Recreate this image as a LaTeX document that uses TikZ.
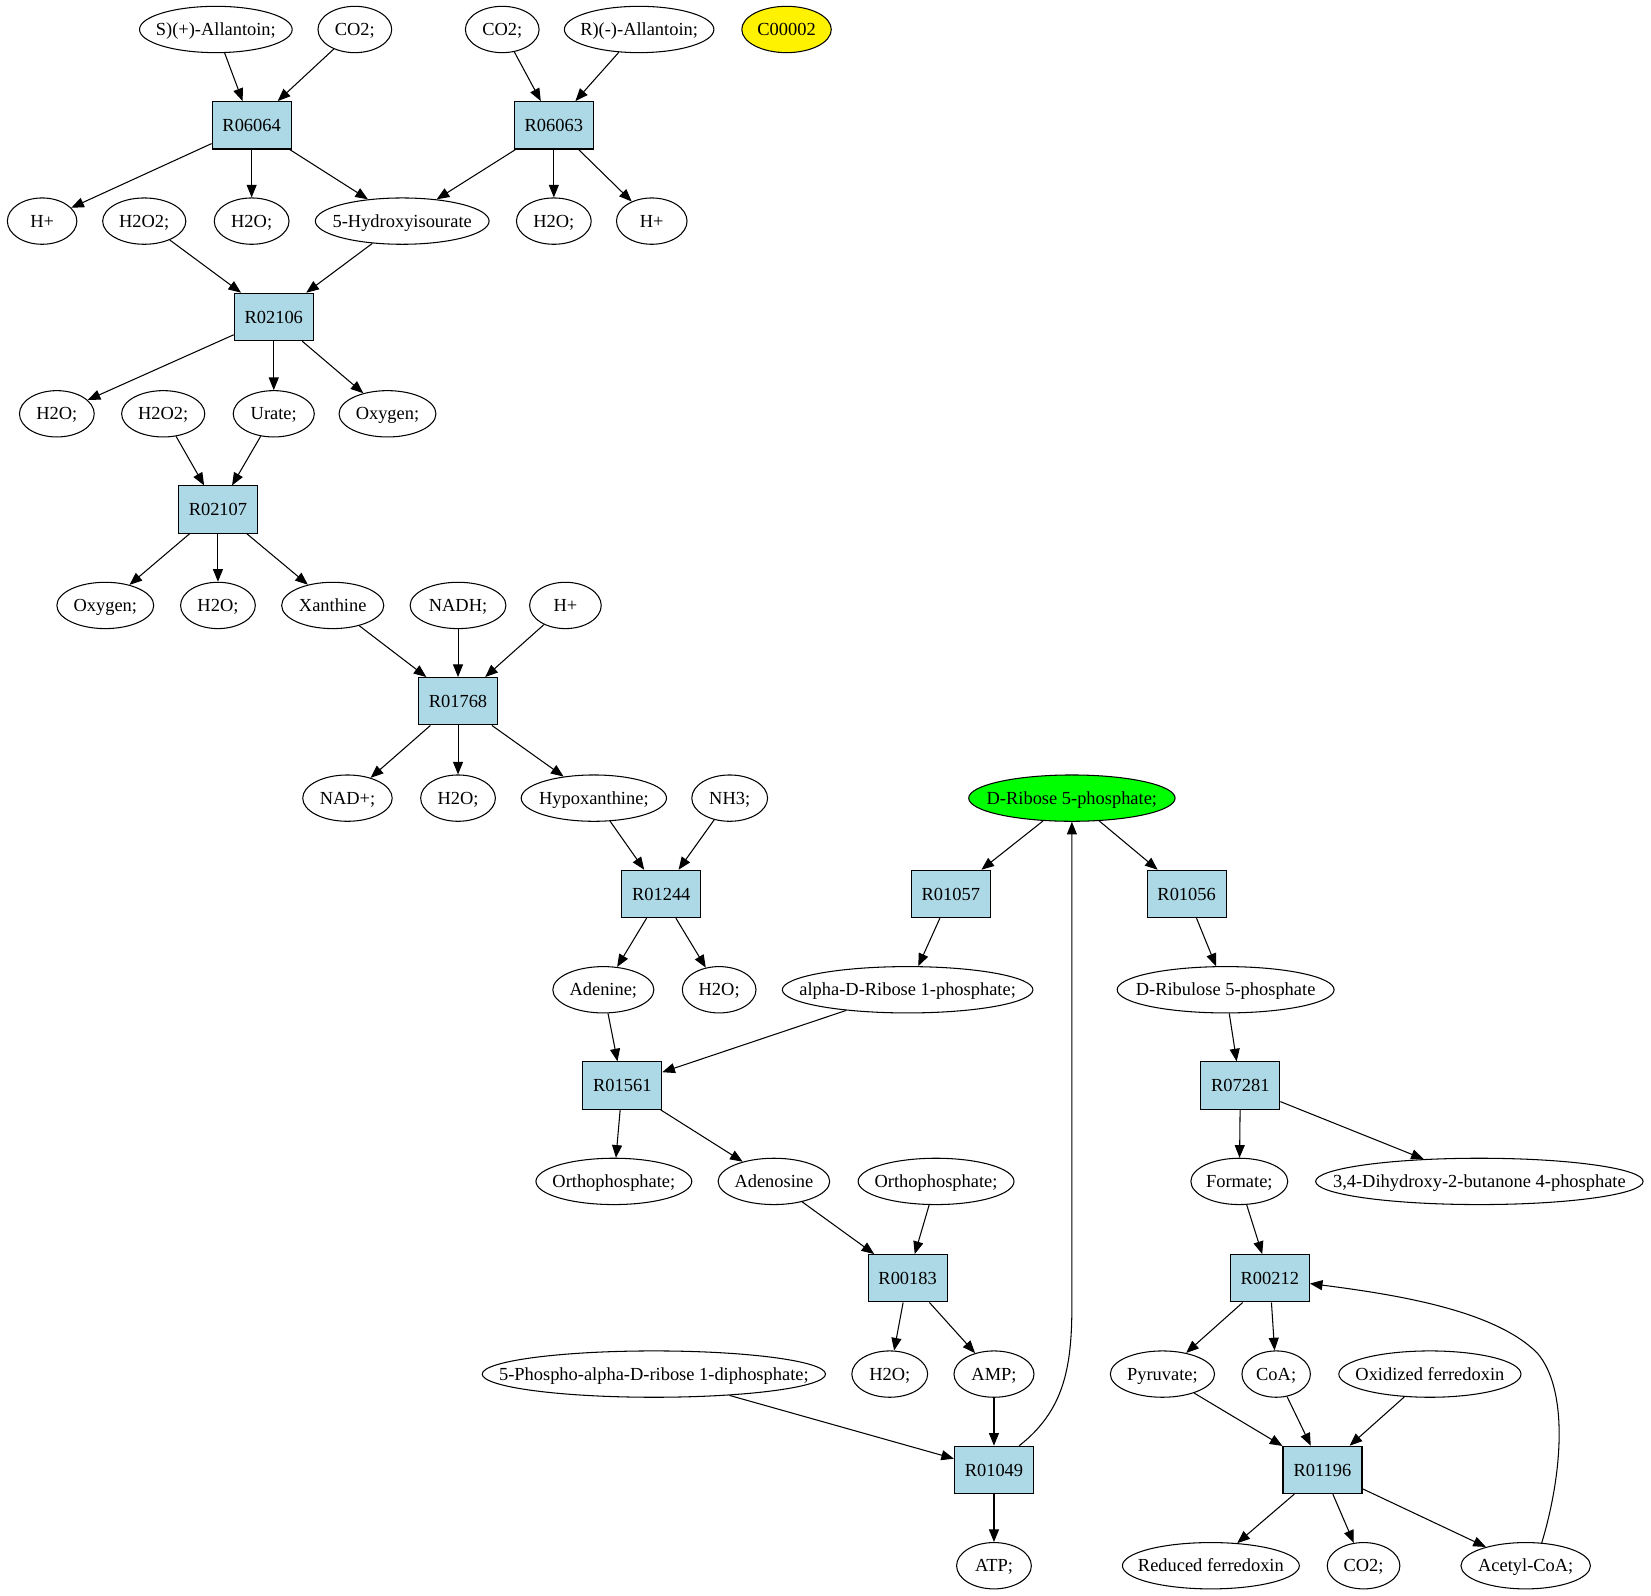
\documentclass[tikz,border=0pt]{standalone}
\usepackage{fontspec}
\setmainfont{Liberation Serif}
\usetikzlibrary{arrows.meta,calc,shapes.geometric}
\definecolor{lb}{RGB}{173,216,230}
\newcommand\mb[1]{\makebox[0pt]{#1}}
\begin{document}
\begin{tikzpicture}[x=1pt,y=-1pt,
  font=\fontsize{17.5}{21}\selectfont,
  every node/.style={line width=1pt,text height=11.6pt,text depth=0pt},
  ell/.style={draw,ellipse,inner sep=0pt,minimum height=44pt},
  rx/.style={draw,fill=lb,rectangle,inner sep=0pt,minimum width=75pt,minimum height=45pt},
  arr/.style={line width=1pt,-{Triangle[length=12pt,width=9.5pt]}}]
\useasboundingbox (0,0) rectangle (1568,1515);
% row 1
\node[ell,minimum width=145pt] (a1) at (205,28) {\mb{S)(+)-Allantoin;}};
\node[ell,minimum width=70pt] (a2) at (337,28) {\mb{CO2;}};
\node[ell,minimum width=70pt] (a3) at (477,28) {\mb{CO2;}};
\node[ell,minimum width=142pt] (a4) at (607,28) {\mb{R)(-)-Allantoin;}};
\node[ell,minimum width=85pt,fill=yellow] (c2) at (747,28) {\mb{C00002}};
% row 2
\node[rx] (r06064) at (239,119) {R06064};
\node[rx] (r06063) at (526,119) {R06063};
% row 3
\node[ell,minimum width=66pt] (b1) at (40,210) {\mb{H+}};
\node[ell,minimum width=79pt] (b2) at (137,210) {\mb{H2O2;}};
\node[ell,minimum width=71pt] (b3) at (239,210) {\mb{H2O;}};
\node[ell,minimum width=165pt] (b4) at (382,210) {\mb{5-Hydroxyisourate}};
\node[ell,minimum width=71pt] (b5) at (526,210) {\mb{H2O;}};
\node[ell,minimum width=67pt] (b6) at (619,210) {\mb{H+}};
% row 4
\node[rx] (r02106) at (260,301) {R02106};
% row 5
\node[ell,minimum width=71pt] (d1) at (54,393) {\mb{H2O;}};
\node[ell,minimum width=79pt] (d2) at (155,393) {\mb{H2O2;}};
\node[ell,minimum width=77pt] (d3) at (260,393) {\mb{Urate;}};
\node[ell,minimum width=92pt] (d4) at (368,393) {\mb{Oxygen;}};
% row 6
\node[rx] (r02107) at (207,484) {R02107};
% row 7
\node[ell,minimum width=92pt] (e1) at (100,575) {\mb{Oxygen;}};
\node[ell,minimum width=71pt] (e2) at (207,575) {\mb{H2O;}};
\node[ell,minimum width=97pt] (e3) at (316,575) {\mb{Xanthine}};
\node[ell,minimum width=91pt] (e4) at (435,575) {\mb{NADH;}};
\node[ell,minimum width=68pt] (e5) at (537,575) {\mb{H+}};
% row 8
\node[rx] (r01768) at (435,666) {R01768};
% row 9
\node[ell,minimum width=85pt] (f1) at (330,758) {\mb{NAD+;}};
\node[ell,minimum width=71pt] (f2) at (435,758) {\mb{H2O;}};
\node[ell,minimum width=138pt] (f3) at (564,758) {\mb{Hypoxanthine;}};
\node[ell,minimum width=72pt] (f4) at (693,758) {\mb{NH3;}};
\node[ell,minimum width=196pt,fill=green] (rib) at (1018,758) {\mb{D-Ribose 5-phosphate;}};
% row 10
\node[rx] (r01244) at (628,849) {R01244};
\node[rx] (r01057) at (903,849) {R01057};
\node[rx] (r01056) at (1127,849) {R01056};
% row 11
\node[ell,minimum width=96pt] (g1) at (573,940) {\mb{Adenine;}};
\node[ell,minimum width=70pt] (g2) at (683,940) {\mb{H2O;}};
\node[ell,minimum width=238pt] (g3) at (862,940) {\mb{alpha-D-Ribose 1-phosphate;}};
\node[ell,minimum width=206pt] (g4) at (1164,940) {\mb{D-Ribulose 5-phosphate}};
% row 12
\node[rx] (r01561) at (591,1031) {R01561};
\node[rx] (r07281) at (1178,1031) {R07281};
% row 13
\node[ell,minimum width=148pt] (h1) at (583,1122) {\mb{Orthophosphate;}};
\node[ell,minimum width=106pt] (h2) at (735,1122) {\mb{Adenosine}};
\node[ell,minimum width=148pt] (h3) at (889,1122) {\mb{Orthophosphate;}};
\node[ell,minimum width=92pt] (h4) at (1177,1122) {\mb{Formate;}};
\node[ell,minimum width=311pt] (h5) at (1405,1122) {\mb{3,4-Dihydroxy-2-butanone 4-phosphate}};
% row 14
\node[rx] (r00183) at (862,1214) {R00183};
\node[rx] (r00212) at (1206,1214) {R00212};
% row 15
\node[ell,minimum width=326pt] (i1) at (621,1305) {\mb{5-Phospho-alpha-D-ribose 1-diphosphate;}};
\node[ell,minimum width=72pt] (i2) at (845,1305) {\mb{H2O;}};
\node[ell,minimum width=76pt] (i3) at (944,1305) {\mb{AMP;}};
\node[ell,minimum width=99pt] (i4) at (1104,1305) {\mb{Pyruvate;}};
\node[ell,minimum width=65pt] (i5) at (1212,1305) {\mb{CoA;}};
\node[ell,minimum width=173pt] (i6) at (1358,1305) {\mb{Oxidized ferredoxin}};
% row 16
\node[rx] (r01049) at (944,1396) {R01049};
\node[rx] (r01196) at (1256,1396) {R01196};
% row 17
\node[ell,minimum width=71pt] (j1) at (944,1487) {\mb{ATP;}};
\node[ell,minimum width=168pt] (j2) at (1150,1487) {\mb{Reduced ferredoxin}};
\node[ell,minimum width=69pt] (j3) at (1295,1487) {\mb{CO2;}};
\node[ell,minimum width=123pt] (j4) at (1449,1487) {\mb{Acetyl-CoA;}};
% edges
\draw[arr] (a1) -- (r06064);
\draw[arr] (a2) -- (r06064);
\draw[arr] (a3) -- (r06063);
\draw[arr] (a4) -- (r06063);
\draw[arr] (r06064) -- (b1);
\draw[arr] (r06064) -- (b3);
\draw[arr] (r06064) -- (b4);
\draw[arr] (r06063) -- (b4);
\draw[arr] (r06063) -- (b5);
\draw[arr] (r06063) -- (b6);
\draw[arr] (b2) -- (r02106);
\draw[arr] (b4) -- (r02106);
\draw[arr] (r02106) -- (d1);
\draw[arr] (r02106) -- (d3);
\draw[arr] (r02106) -- (d4);
\draw[arr] (d2) -- (r02107);
\draw[arr] (d3) -- (r02107);
\draw[arr] (r02107) -- (e1);
\draw[arr] (r02107) -- (e2);
\draw[arr] (r02107) -- (e3);
\draw[arr] (e3) -- (r01768);
\draw[arr] (e4) -- (r01768);
\draw[arr] (e5) -- (r01768);
\draw[arr] (r01768) -- (f1);
\draw[arr] (r01768) -- (f2);
\draw[arr] (r01768) -- (f3);
\draw[arr] (f3) -- (r01244);
\draw[arr] (f4) -- (r01244);
\draw[arr] (r01244) -- (g1);
\draw[arr] (r01244) -- (g2);
\draw[arr] (rib) -- (r01057);
\draw[arr] (rib) -- (r01056);
\draw[arr] (r01057) -- (g3);
\draw[arr] (r01056) -- (g4);
\draw[arr] (g1) -- (r01561);
\draw[arr] (g3) -- (r01561);
\draw[arr] (g4) -- (r07281);
\draw[arr] (r01561) -- (h1);
\draw[arr] (r01561) -- (h2);
\draw[arr] (r07281) -- (h4);
\draw[arr] (r07281) -- (h5);
\draw[arr] (h2) -- (r00183);
\draw[arr] (h3) -- (r00183);
\draw[arr] (h4) -- (r00212);
\draw[arr] (r00183) -- (i2);
\draw[arr] (r00183) -- (i3);
\draw[arr] (r00212) -- (i4);
\draw[arr] (r00212) -- (i5);
\draw[arr] (i1) -- (r01049);
\draw[arr] (i3) -- (r01049);
\draw[arr] (i4) -- (r01196);
\draw[arr] (i5) -- (r01196);
\draw[arr] (i6) -- (r01196);
\draw[arr] (r01049) -- (j1);
\draw[arr] (r01196) -- (j2);
\draw[arr] (r01196) -- (j3);
\draw[arr] (r01196) -- (j4);
\draw[arr] ($(r01049.north)+(24,0)$) .. controls (1010,1340) and (1018,1300) .. (1018,1240) -- (rib.south);
\draw[arr] ($(j4.center)+(15,-21)$) .. controls (1484,1400) and (1490,1320) .. (1460,1285) .. controls (1420,1245) and (1330,1230) .. ($(r00212.east)+(0,5)$);
\end{tikzpicture}
\end{document}
